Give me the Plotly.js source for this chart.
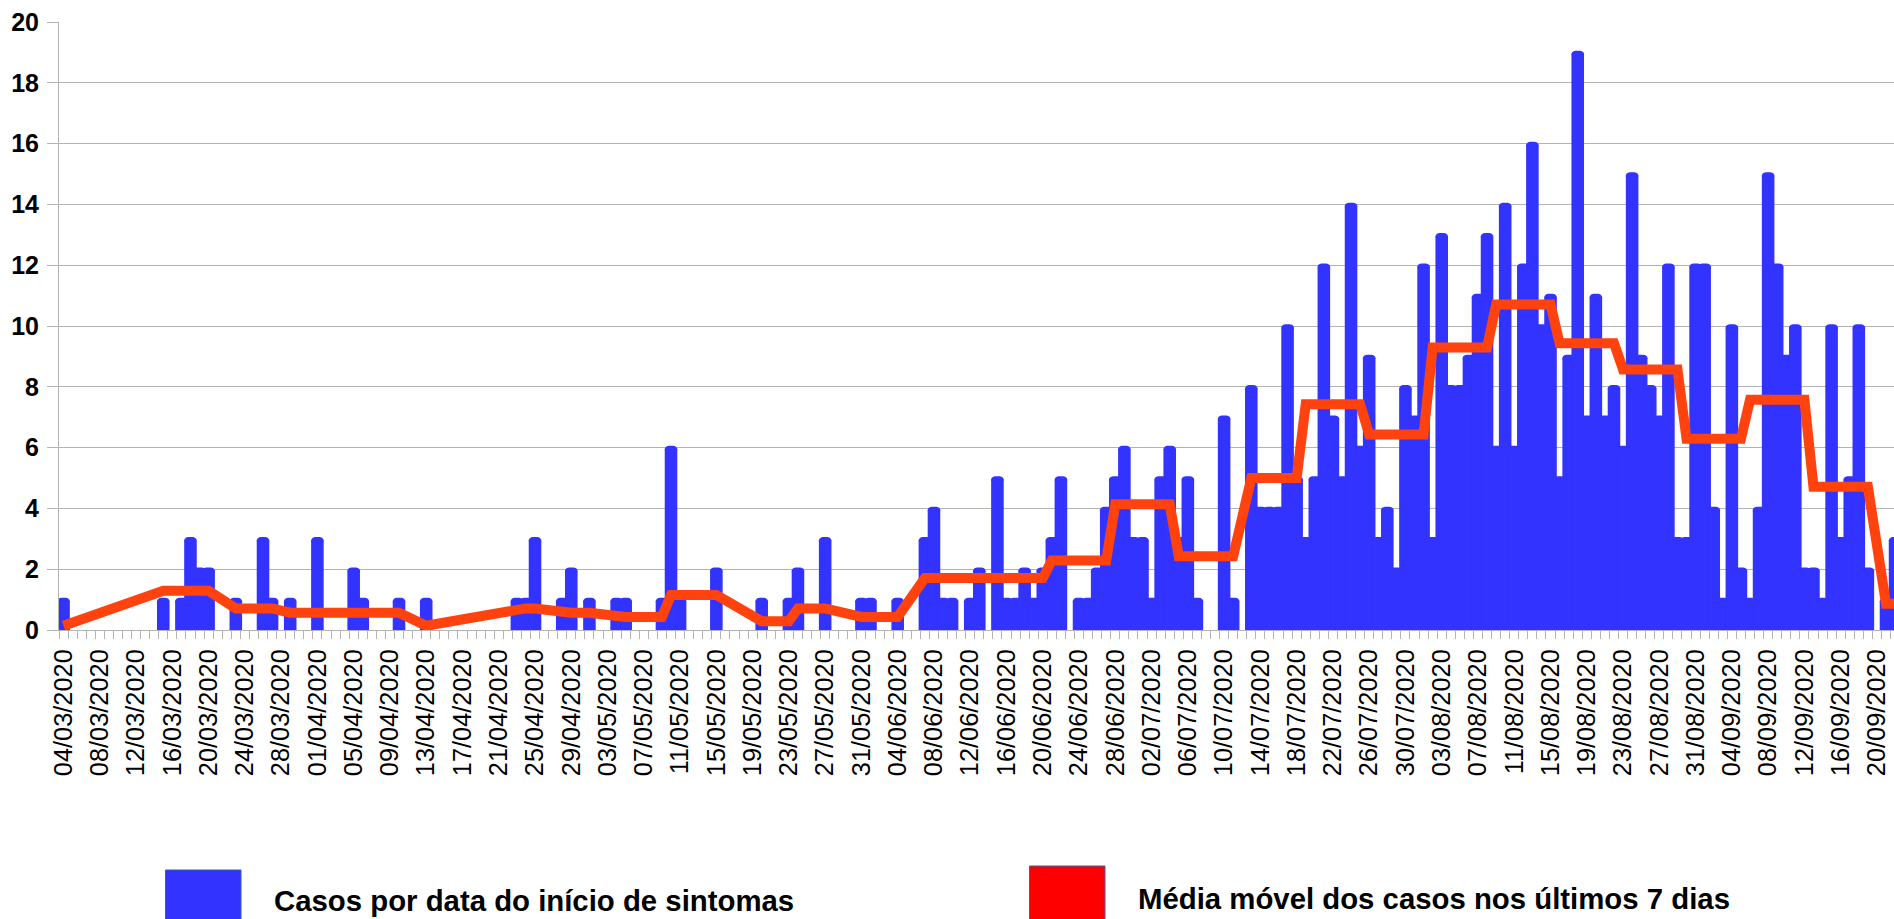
<!DOCTYPE html>
<html>
<head>
<meta charset="utf-8">
<script src="https://cdn.plot.ly/plotly-3.0.1.min.js"></script>
<style>
html,body{margin:0;padding:0;background:#fff;overflow:hidden}
#chart{width:1894px;height:919px}
</style>
</head>
<body>
<div id="chart"></div>
<script>
// Days (categories)
const dates = [
'04/03/2020','05/03/2020','06/03/2020','07/03/2020','08/03/2020','09/03/2020','10/03/2020','11/03/2020','12/03/2020','13/03/2020','14/03/2020','15/03/2020','16/03/2020','17/03/2020','18/03/2020','19/03/2020','20/03/2020','21/03/2020','22/03/2020','23/03/2020','24/03/2020','25/03/2020','26/03/2020','27/03/2020','28/03/2020','29/03/2020','30/03/2020','31/03/2020',
'01/04/2020','02/04/2020','03/04/2020','04/04/2020','05/04/2020','06/04/2020','07/04/2020','08/04/2020','09/04/2020','10/04/2020','11/04/2020','12/04/2020','13/04/2020','14/04/2020','15/04/2020','16/04/2020','17/04/2020','18/04/2020','19/04/2020','20/04/2020','21/04/2020','22/04/2020','23/04/2020','24/04/2020','25/04/2020','26/04/2020','27/04/2020','28/04/2020','29/04/2020','30/04/2020',
'01/05/2020','02/05/2020','03/05/2020','04/05/2020','05/05/2020','06/05/2020','07/05/2020','08/05/2020','09/05/2020','10/05/2020','11/05/2020','12/05/2020','13/05/2020','14/05/2020','15/05/2020','16/05/2020','17/05/2020','18/05/2020','19/05/2020','20/05/2020','21/05/2020','22/05/2020','23/05/2020','24/05/2020','25/05/2020','26/05/2020','27/05/2020','28/05/2020','29/05/2020','30/05/2020','31/05/2020',
'01/06/2020','02/06/2020','03/06/2020','04/06/2020','05/06/2020','06/06/2020','07/06/2020','08/06/2020','09/06/2020','10/06/2020','11/06/2020','12/06/2020','13/06/2020','14/06/2020','15/06/2020','16/06/2020','17/06/2020','18/06/2020','19/06/2020','20/06/2020','21/06/2020','22/06/2020','23/06/2020','24/06/2020','25/06/2020','26/06/2020','27/06/2020','28/06/2020','29/06/2020','30/06/2020',
'01/07/2020','02/07/2020','03/07/2020','04/07/2020','05/07/2020','06/07/2020','07/07/2020','08/07/2020','09/07/2020','10/07/2020','11/07/2020','12/07/2020','13/07/2020','14/07/2020','15/07/2020','16/07/2020','17/07/2020','18/07/2020','19/07/2020','20/07/2020','21/07/2020','22/07/2020','23/07/2020','24/07/2020','25/07/2020','26/07/2020','27/07/2020','28/07/2020','29/07/2020','30/07/2020','31/07/2020',
'01/08/2020','02/08/2020','03/08/2020','04/08/2020','05/08/2020','06/08/2020','07/08/2020','08/08/2020','09/08/2020','10/08/2020','11/08/2020','12/08/2020','13/08/2020','14/08/2020','15/08/2020','16/08/2020','17/08/2020','18/08/2020','19/08/2020','20/08/2020','21/08/2020','22/08/2020','23/08/2020','24/08/2020','25/08/2020','26/08/2020','27/08/2020','28/08/2020','29/08/2020','30/08/2020','31/08/2020',
'01/09/2020','02/09/2020','03/09/2020','04/09/2020','05/09/2020','06/09/2020','07/09/2020','08/09/2020','09/09/2020','10/09/2020','11/09/2020','12/09/2020','13/09/2020','14/09/2020','15/09/2020','16/09/2020','17/09/2020','18/09/2020','19/09/2020','20/09/2020','21/09/2020','22/09/2020'
];

// Casos por data do início de sintomas (one value per day)
const cases = [
1,0,0,0,0,0,0,0,0,0,0,1,0,1,3,2,2,0,0,1,0,0,3,1,0,1,0,0,
3,0,0,0,2,1,0,0,0,1,0,0,1,0,0,0,0,0,0,0,0,0,1,1,3,0,0,1,2,0,
1,0,0,1,1,0,0,0,1,6,1,0,0,0,2,0,0,0,0,1,0,0,1,2,0,0,3,0,0,0,1,
1,0,0,1,0,0,3,4,1,1,0,1,2,0,5,1,1,2,1,2,3,5,0,1,1,2,4,5,6,3,
3,1,5,6,3,5,1,0,0,7,1,0,8,4,4,4,10,5,3,5,12,7,5,14,6,9,3,4,2,8,7,
12,3,13,8,8,9,11,13,6,14,6,12,16,10,11,5,9,19,7,11,7,8,6,15,9,8,7,12,3,3,12,
12,4,1,10,2,1,4,15,12,9,10,2,2,1,10,3,5,10,2,0,1,3
];

// Média móvel dos casos nos últimos 7 dias (null = no point that day)
const n = null;
const movingAvg = [
0.14,n,n,n,n,n,n,n,n,n,n,1.29,n,1.29,1.29,1.29,1.29,n,n,0.71,n,n,0.71,0.71,n,0.57,n,n,
0.57,n,n,n,0.57,0.57,n,n,n,0.57,n,n,0.14,n,n,n,n,n,n,n,n,n,0.71,0.71,0.71,n,n,0.57,0.57,n,
0.57,n,n,0.43,0.43,n,n,n,0.43,1.15,1.15,n,n,n,1.15,n,n,n,n,0.29,n,n,0.29,0.71,n,n,0.71,n,n,n,0.43,
0.43,n,n,0.43,n,n,1.71,1.71,1.71,1.71,n,1.71,1.71,n,1.71,1.71,1.71,1.71,1.71,1.71,2.29,2.29,n,2.29,2.29,2.29,2.29,4.14,4.14,4.14,
4.14,4.14,4.14,4.14,2.43,2.43,2.43,n,n,2.43,2.43,n,5,5,5,5,5,5,7.43,7.43,7.43,7.43,7.43,7.43,7.43,6.43,6.43,6.43,6.43,6.43,6.43,
6.43,9.29,9.29,9.29,9.29,9.29,9.29,9.29,10.71,10.71,10.71,10.71,10.71,10.71,10.71,9.43,9.43,9.43,9.43,9.43,9.43,9.43,8.57,8.57,8.57,8.57,8.57,8.57,8.57,6.29,6.29,
6.29,6.29,6.29,6.29,6.29,7.57,7.57,7.57,7.57,7.57,7.57,7.57,4.71,4.71,4.71,4.71,4.71,4.71,4.71,n,0.86,0.86
];

const seriesNames = ['Casos por data do início de sintomas', 'Média móvel dos casos nos últimos 7 dias'];
const yTickVals = [0,2,4,6,8,10,12,14,16,18,20];
const labelEvery = 4;

// ---- layout geometry ----
const W = 1894, H = 919;
const M = {l: 59, r: 0, t: 22, b: 289};
const plotW = W - M.l - M.r, plotH = H - M.t - M.b;
const dayPx = 9.067;
const px = x => (x - M.l) / plotW;
const py = y => (H - M.b - y) / plotH;

const xIdx = dates.map((d, i) => i);
const tickVals = xIdx.filter(i => i % labelEvery === 0);
const tickText = tickVals.map(i => dates[i]);

const FONT = 'Liberation Sans, Arial, sans-serif';

const traces = [
  {
    type: 'bar',
    x: xIdx,
    y: cases.map(v => (v > 0 ? v : null)),
    width: 1,
    name: seriesNames[0],
    marker: {color: '#3333ff', line: {color: '#3333ff', width: 3.5}, cornerradius: 3},
    showlegend: false,
    hoverinfo: 'skip'
  },
  {
    type: 'scatter',
    mode: 'lines',
    x: xIdx,
    y: movingAvg,
    connectgaps: true,
    name: seriesNames[1],
    line: {color: '#ff420e', width: 10},
    showlegend: false,
    hoverinfo: 'skip'
  }
];

const layout = {
  width: W, height: H,
  margin: M,
  paper_bgcolor: '#ffffff',
  plot_bgcolor: '#ffffff',
  font: {family: FONT, color: '#000000'},
  bargap: 0,
  showlegend: false,
  xaxis: {
    type: 'linear',
    range: [-0.5, -0.5 + plotW / dayPx],
    tickmode: 'array',
    tickvals: tickVals,
    ticktext: tickText,
    tickangle: -90,
    ticks: '',
    tickfont: {family: FONT, size: 25.4, color: '#000000'},
    ticklabelstandoff: 8,
    showgrid: false,
    zeroline: false,
    showline: true,
    linecolor: '#b3b3b3',
    linewidth: 1,
    automargin: false,
    minor: {tickmode: 'linear', tick0: -0.5, dtick: 1, ticks: 'outside', ticklen: 8, tickcolor: '#b3b3b3', tickwidth: 1, showgrid: false}
  },
  yaxis: {
    range: [0, 20],
    tickmode: 'array',
    tickvals: yTickVals,
    ticks: 'outside',
    ticklen: 11,
    tickcolor: '#b3b3b3',
    tickwidth: 1,
    tickfont: {family: FONT, size: 25, weight: 'bold', color: '#000000'},
    ticklabelstandoff: 3,
    showgrid: true,
    gridcolor: '#b3b3b3',
    gridwidth: 1,
    zeroline: false,
    showline: true,
    linecolor: '#b3b3b3',
    linewidth: 1,
    automargin: false
  },
  shapes: [
    {type: 'rect', xref: 'paper', yref: 'paper', x0: px(165.5), x1: px(241), y0: py(870), y1: py(946),
     fillcolor: '#3333ff', line: {color: '#3465a4', width: 1}, layer: 'above'},
    {type: 'rect', xref: 'paper', yref: 'paper', x0: px(1029.5), x1: px(1105), y0: py(866), y1: py(942),
     fillcolor: '#ff0000', line: {color: '#3465a4', width: 1}, layer: 'above'}
  ],
  annotations: [
    {xref: 'paper', yref: 'paper', x: px(272), y: py(900), xanchor: 'left', yanchor: 'middle', showarrow: false,
     text: seriesNames[0], font: {family: FONT, size: 29.35, weight: 'bold', color: '#000000'}},
    {xref: 'paper', yref: 'paper', x: px(1136), y: py(898), xanchor: 'left', yanchor: 'middle', showarrow: false,
     text: seriesNames[1], font: {family: FONT, size: 29.35, weight: 'bold', color: '#000000'}}
  ]
};

Plotly.newPlot('chart', traces, layout, {displayModeBar: false, staticPlot: true});
</script>
</body>
</html>
